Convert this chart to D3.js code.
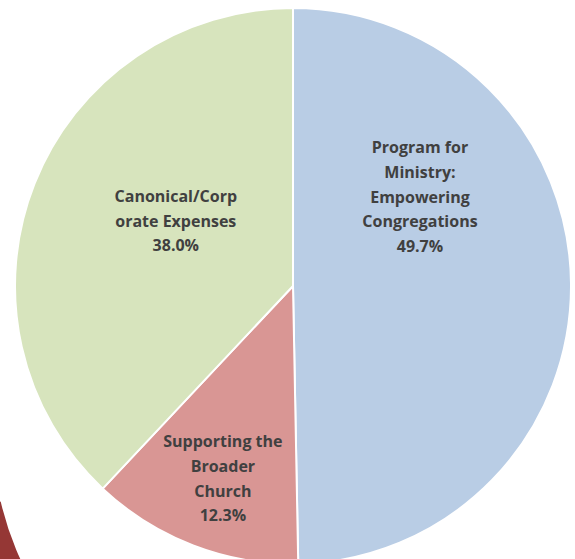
<!DOCTYPE html>
<html>
<head>
<meta charset="utf-8">
<script src="https://cdn.jsdelivr.net/npm/d3@7"></script>
<style>
  html, body { margin: 0; padding: 0; background: #fff; overflow: hidden; }
</style>
</head>
<body>
<svg></svg>
<script>
// Slices, clockwise from 12 o'clock
const categories = [
  ['Program for', 'Ministry:', 'Empowering', 'Congregations'],
  ['Supporting the', 'Broader', 'Church'],
  ['Canonical/Corp', 'orate Expenses']
]
const values = [49.7, 12.3, 38.0]
const colors = ['#b9cde5', '#d99694', '#d7e4bd']

const width = 575
const height = 559
const cx = 293
const cy = 286
const radius = 278

// label block placement: [distance from centre, angle in degrees]
const labelPolar = [[155, 55], [205, 200], [134, 299]]

const svg = d3.select('svg')
  .attr('width', width)
  .attr('height', height)

// piece of a dark red ring peeking in at the bottom left
svg.append('path')
  .attr('transform', 'translate(293,434)')
  .attr('fill', '#953735')
  .attr('d', d3.arc()
    .innerRadius(300)
    .outerRadius(420)
    .startAngle(Math.PI)
    .endAngle(257 * Math.PI / 180)())

const pie = d3.pie().sort(null).value(d => d)
const arcs = pie(values)

const arc = d3.arc()
  .innerRadius(0)
  .outerRadius(radius)

const g = svg.append('g')
  .attr('transform', `translate(${cx},${cy})`)

g.selectAll('path')
  .data(arcs)
  .enter().append('path')
  .attr('d', arc)
  .attr('fill', (d, i) => colors[i])
  .attr('stroke', '#fff')
  .attr('stroke-width', 2)
  .attr('stroke-linejoin', 'round')

const lineHeight = 24.7
const labels = g.selectAll('text')
  .data(arcs)
  .enter().append('text')
  .attr('font-family', '"Open Sans", sans-serif')
  .attr('font-weight', 'bold')
  .attr('font-size', '16px')
  .attr('fill', '#404040')
  .attr('text-anchor', 'middle')
  .attr('transform', (d, i) => {
    const r = labelPolar[i][0]
    const a = labelPolar[i][1] * Math.PI / 180
    return `translate(${r * Math.sin(a)},${-r * Math.cos(a)})`
  })

labels.each(function (d, i) {
  const lines = categories[i].concat([d3.format('.1f')(values[i]) + '%'])
  const t = d3.select(this)
  const top = -(lines.length - 1) / 2 * lineHeight
  lines.forEach((line, j) => {
    t.append('tspan')
      .attr('x', 0)
      .attr('y', top + j * lineHeight)
      .attr('dy', '0.35em')
      .text(line)
  })
})
</script>
</body>
</html>
